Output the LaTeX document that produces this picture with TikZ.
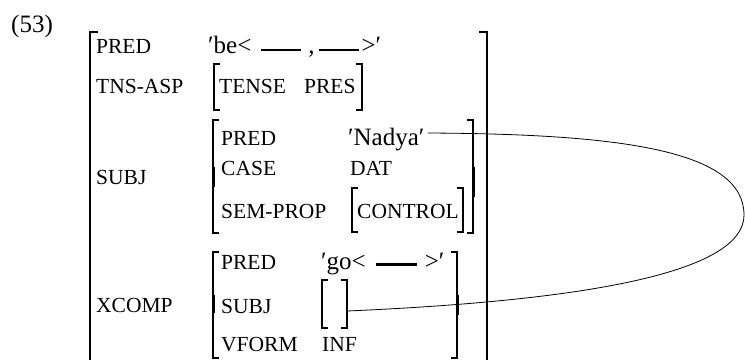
\documentclass[tikz,border=0pt]{standalone}
\usepackage{fontspec}
\setmainfont{Liberation Serif}
\newcommand\fslabfont{\fontsize{21.5}{21.5}\selectfont}
\newcommand\fsvalfont{\fontsize{25}{25}\selectfont}
% bracket pair: left x, right x, top, bottom, hook, vertical width
\newcommand\fsbr[6]{%
  \draw[hookline] (#1+#5,#3) -- (#1,#3) -- (#1,#4) -- (#1+#5,#4);
  \draw[hookline] (#2-#5,#3) -- (#2,#3) -- (#2,#4) -- (#2-#5,#4);
  \draw[line width=#6] (#1,#3) -- (#1,#4);
  \draw[line width=#6] (#2,#3) -- (#2,#4);}
\tikzset{
  fslab/.style={inner sep=0pt, anchor=base west, font=\fslabfont},
  fsval/.style={inner sep=0pt, anchor=base west, font=\fsvalfont},
  hookline/.style={line width=1.1pt},
  fslink/.style={line width=0.8pt}
}
\begin{document}
\begin{tikzpicture}[x=1pt,y=-1pt]
\useasboundingbox (0,0) rectangle (745,360);
% example number
\node[fsval] (ex) at (11,32) {(53)};
% outer f-structure
\node[fslab] (pred) at (96,53) {PRED};
\node[fsval] (be) at (208,53) {′be<\hspace{10pt}\rule[2.5pt]{40pt}{1.6pt}\hspace{7pt},\hspace{4pt}\rule[2.5pt]{40pt}{1.6pt}\hspace{3pt}>′};
\node[fslab] (tns) at (96,93) {TNS-ASP};
\node[fslab] (tense) at (219,93) {TENSE};
\node[fslab] (pres) at (304,93) {PRES};
\node[fslab] (subj) at (96,184) {SUBJ};
\node[fslab] (spred) at (221,145) {PRED};
\node[fsval] (nadya) at (348,145) {′Nadya′};
\node[fslab] (case) at (221,175) {CASE};
\node[fslab] (dat) at (350,175) {DAT};
\node[fslab] (sem) at (221,218) {SEM-PROP};
\node[fslab] (control) at (357,218) {CONTROL};
\node[fslab] (xcomp) at (96,312) {XCOMP};
\node[fslab] (xpred) at (221,269) {PRED};
\node[fsval] (go) at (321,269) {′go<\hspace{10pt}\rule[3pt]{41pt}{3pt}\hspace{8pt}>′};
\node[fslab] (xsubj) at (221,313) {SUBJ};
\node[fslab] (vform) at (221,351) {VFORM};
\node[fslab] (inf) at (322,351) {INF};
\coordinate (ebox) at (347,311);
% outer brackets
\draw[hookline] (98,32) -- (90,32) -- (90,360);
\draw[line width=2.6pt] (90,32) -- (90,318);
\draw[line width=1.5pt] (90,318) -- (90,360);
\draw[hookline] (479,32) -- (487,32) -- (487,360);
\draw[line width=2.6pt] (487,32) -- (487,360);
% inner brackets
\fsbr{214}{362}{64}{110}{6}{1.4pt}
\fsbr{213}{473}{120}{233}{6}{1.4pt}
\fsbr{352}{463}{188}{232}{6}{1.4pt}
\fsbr{213}{457}{252}{358}{6}{1.5pt}
\fsbr{322}{347}{280}{328}{6}{1.7pt}
\draw[line width=3pt] (213,167) -- (213,187);
\draw[line width=3pt] (473,167) -- (473,197);
\draw[line width=3pt] (213,295) -- (213,313);
\draw[line width=3pt] (457,295) -- (457,315);
% link
\draw[fslink] ([xshift=3pt,yshift=12pt]nadya.base east)
  .. controls (620,134) and (744,150) .. (744,215)
  .. controls (744,270) and (600,300) .. (ebox);
\end{tikzpicture}
\end{document}
